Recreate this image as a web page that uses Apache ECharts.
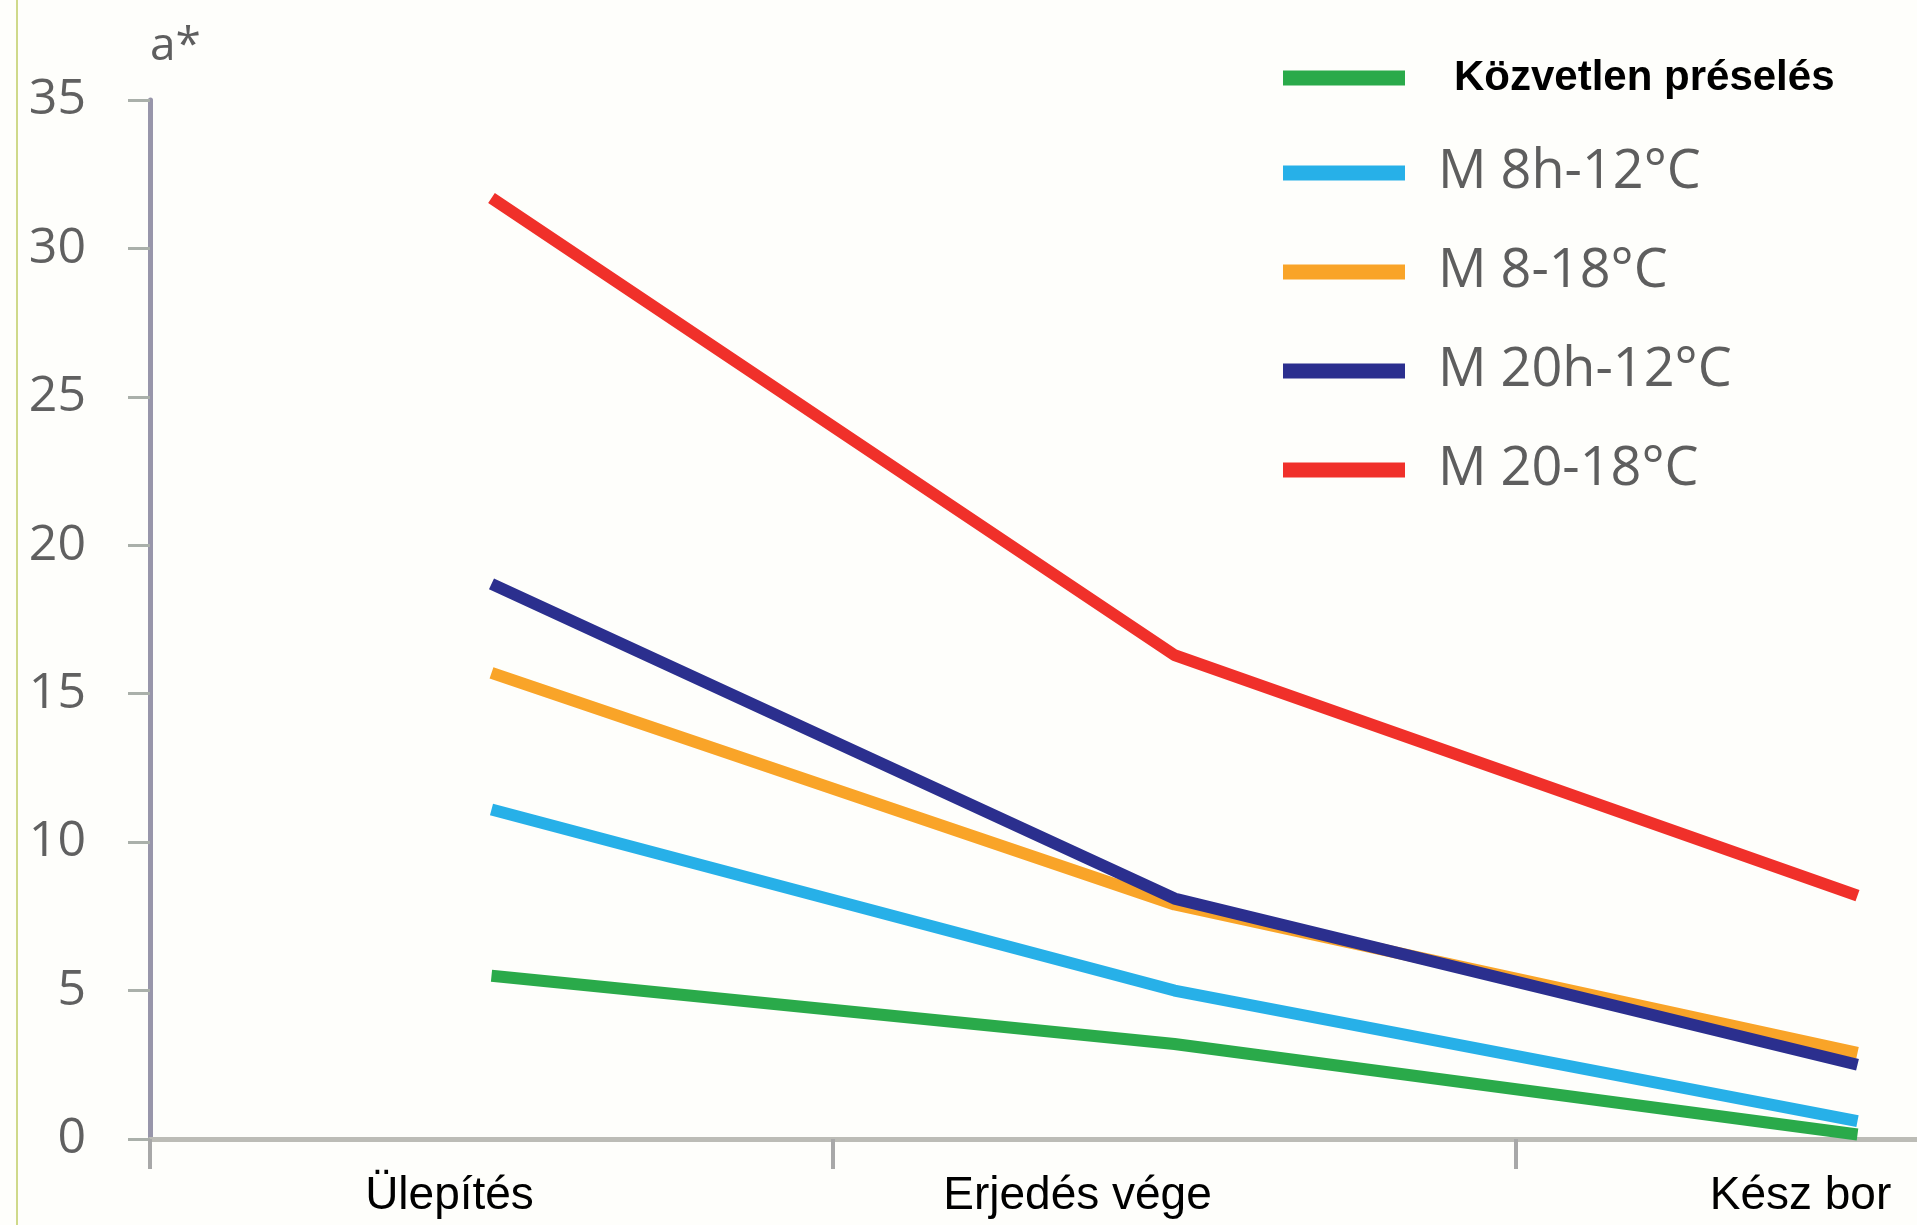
<!DOCTYPE html>
<html>
<head>
<meta charset="utf-8">
<script src="https://cdn.jsdelivr.net/npm/echarts@6/dist/echarts.min.js"></script>
<style>
html,body{margin:0;padding:0;background:#fefefb;}
#chart{width:1917px;height:1225px;}
</style>
</head>
<body>
<div id="chart"></div>
<script>
const categories = ['Ülepítés', 'Erjedés vége', 'Kész bor'];
const seriesNames = ['Közvetlen préselés', 'M 8h-12°C', 'M 8-18°C', 'M 20h-12°C', 'M 20-18°C'];
const kozvetlen = [5.5, 3.2, 0.15];
const m8h12 = [11.1, 5.0, 0.6];
const m8_18 = [15.7, 7.9, 2.9];
const m20h12 = [18.7, 8.1, 2.5];
const m20_18 = [31.7, 16.3, 8.2];
const yTicks = { min: 0, max: 35, interval: 5 };
const colors = ['#2aaa4a', '#27b0e8', '#f9a428', '#2b2f8e', '#f0302a'];
const values = [kozvetlen, m8h12, m8_18, m20h12, m20_18];
const labelShift = [84, 194, 114];

const chart = echarts.init(document.getElementById('chart'));
const grayFont = "'Open Sans', 'DejaVu Sans', sans-serif";
chart.setOption({
  backgroundColor: '#fefefb',
  animation: false,
  graphic: [{
    type: 'rect', left: 16, top: 0, shape: { width: 2, height: 1225 },
    style: { fill: '#cfd98a' }, silent: true
  }],
  legend: {
    orient: 'vertical',
    left: 1278,
    top: 35,
    itemWidth: 122,
    itemHeight: 15,
    itemGap: 15,
    icon: 'rect',
    data: seriesNames.map((n, i) => ({
      name: n,
      textStyle: i === 0
        ? { fontFamily: "'Liberation Sans', Arial, sans-serif", fontWeight: 'bold', fontSize: 42, color: '#000', lineHeight: 60, padding: [8, 0, 8, 44] }
        : { fontFamily: grayFont, fontSize: 54, color: '#5e5e5e', lineHeight: 60, padding: [0, 0, 24, 28] }
    }))
  },
  grid: { left: 150, right: -282, top: 100, bottom: 86, containLabel: false, outerBoundsMode: 'none' },
  xAxis: {
    type: 'category',
    data: categories,
    boundaryGap: true,
    axisLine: { show: true, lineStyle: { color: '#bcbcb6', width: 5 } },
    axisTick: { show: true, length: 30, lineStyle: { color: '#a8a8a8', width: 4 } },
    axisLabel: {
      interval: 0,
      margin: 34,
      formatter: (v, i) => '{c' + i + '|' + v + '}',
      rich: Object.fromEntries(labelShift.map((p, i) => ['c' + i, {
        fontFamily: "'Liberation Sans', Arial, sans-serif", fontSize: 46, color: '#000', padding: [0, p, 0, 0]
      }]))
    },
    splitLine: { show: false }
  },
  yAxis: {
    type: 'value',
    min: yTicks.min, max: yTicks.max, interval: yTicks.interval,
    name: 'a*',
    nameLocation: 'end',
    nameGap: 30,
    nameTextStyle: { fontFamily: grayFont, fontSize: 46, color: '#5e5e5e', align: 'left', verticalAlign: 'bottom' },
    axisLine: { show: true, lineStyle: { color: '#9896aa', width: 5 } },
    axisTick: { show: true, length: 22, lineStyle: { color: '#aab0aa', width: 3 } },
    axisLabel: { margin: 64, fontFamily: grayFont, fontSize: 50, color: '#606060' },
    splitLine: { show: false }
  },
  series: values.map((d, i) => ({
    name: seriesNames[i],
    type: 'line',
    data: d,
    showSymbol: false,
    symbol: 'none',
    color: colors[i],
    lineStyle: { width: 12, color: colors[i] },
    z: 2 + i
  }))
});
</script>
</body>
</html>
